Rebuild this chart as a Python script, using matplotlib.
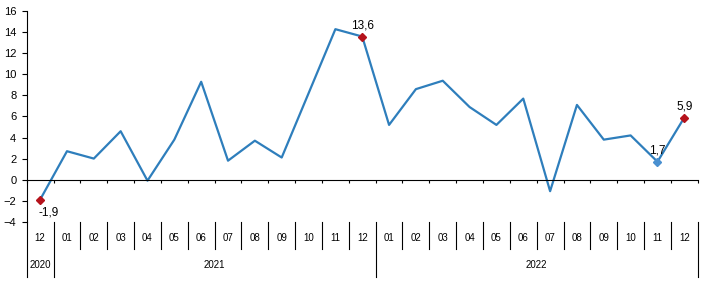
import matplotlib
matplotlib.use("Agg")
import matplotlib.pyplot as plt
from matplotlib.transforms import blended_transform_factory

plt.rcParams['font.family'] = ['Liberation Sans', 'DejaVu Sans']

# data: monthly values, 12/2020 .. 12/2022
months = ['12', '01', '02', '03', '04', '05', '06', '07', '08', '09', '10', '11', '12',
          '01', '02', '03', '04', '05', '06', '07', '08', '09', '10', '11', '12']
values = [-1.9, 2.7, 2.0, 4.6, -0.1, 3.8, 9.3, 1.8, 3.7, 2.1, 8.2, 14.3, 13.6,
          5.2, 8.6, 9.4, 6.9, 5.2, 7.7, -1.1, 7.1, 3.8, 4.2, 1.7, 5.9]
years = ['2020', '2021', '2022']
year_spans = [(0, 0), (1, 12), (13, 24)]  # first/last month index per year

# highlighted points: index, label, colour
red = '#B5121B'
highlights = [(0, '-1,9', red), (12, '13,6', red), (23, '1,7', '#4A90D0'), (24, '5,9', red)]
line_color = '#2E7EBC'

fig = plt.figure(figsize=(7.03, 2.83), dpi=100)
ax = fig.add_axes([0.038, 0.2166, 0.9545, 0.7435])

x = list(range(len(values)))
ax.plot(x, values, color=line_color, linewidth=1.6, zorder=2)

for i, lab, c in highlights:
    ax.plot(x[i], values[i], marker='D', markersize=4.5, color=c, zorder=3)
    if i == 0:
        ax.annotate(lab, (x[i], values[i]), xytext=(-1, -5), textcoords='offset points',
                    ha='left', va='top', fontsize=8.5)
    else:
        ax.annotate(lab, (x[i], values[i]), xytext=(0, 3.5), textcoords='offset points',
                    ha='center', va='bottom', fontsize=8.5)

ax.set_xlim(-0.5, len(values) - 0.5)
ax.set_ylim(-4, 16)
ax.set_yticks(range(-4, 17, 2))
ax.tick_params(axis='y', labelsize=8, length=3.5, width=0.8, pad=4)

# x axis crossing at zero with small ticks between categories
ax.spines['top'].set_visible(False)
ax.spines['right'].set_visible(False)
ax.spines['bottom'].set_position(('data', 0))
ax.spines['left'].set_linewidth(0.8)
ax.spines['bottom'].set_linewidth(0.8)
ax.set_xticks([k + 0.5 for k in range(-1, len(values))])
ax.set_xticklabels([])
ax.tick_params(axis='x', length=2.5, width=0.8, direction='out')

# category labels below the plot area
tr = blended_transform_factory(ax.transData, ax.transAxes)
year_edges = [s - 0.5 for s, e in year_spans] + [year_spans[-1][1] + 0.5]
for k in range(len(values) + 1):
    b = k - 0.5
    y_end = -0.262 if b in year_edges else -0.13
    ax.plot([b, b], [0, y_end], color='black', linewidth=0.8, transform=tr, clip_on=False)
for i, m in enumerate(months):
    ax.text(i, -0.076, m, transform=tr, ha='center', va='center', fontsize=7)
for yr, (s, e) in zip(years, year_spans):
    ax.text((s + e) / 2, -0.206, yr, transform=tr, ha='center', va='center', fontsize=7)

fig.savefig('out.png', dpi=100)
